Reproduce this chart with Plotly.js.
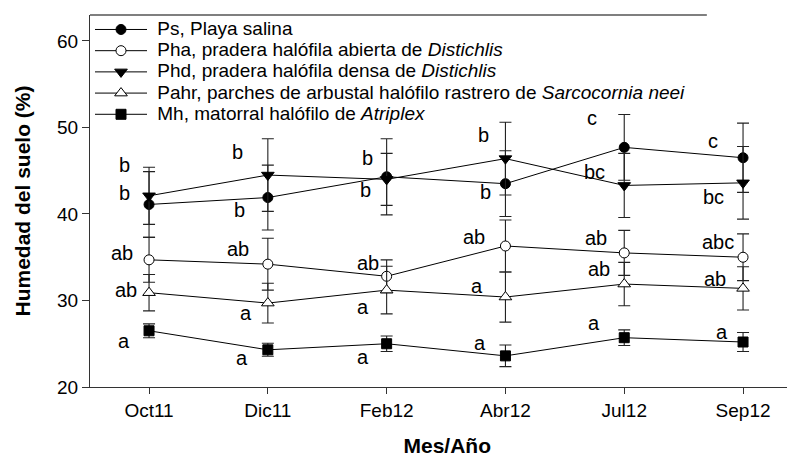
<!DOCTYPE html>
<html>
<head>
<meta charset="utf-8">
<script src="https://cdn.plot.ly/plotly-3.0.1.min.js"></script>
<style>html,body{margin:0;padding:0;background:#fff;}#chart{width:790px;height:457px;}</style>
</head>
<body>
<div id="chart"></div>
<script>
// ---- data ----
const months = ['Oct11', 'Dic11', 'Feb12', 'Abr12', 'Jul12', 'Sep12'];

const psMean   = [41.1, 41.9, 44.3, 43.5, 47.7, 46.5];
const psErr    = [3.8, 3.75, 4.4, 3.8, 3.8, 4.0];
const phaMean  = [34.7, 34.2, 32.8, 36.3, 35.5, 35.0];
const phaErr   = [2.6, 3.0, 1.9, 3.0, 2.6, 2.7];
const phdMean  = [42.1, 44.5, 44.0, 46.4, 43.3, 43.6];
const phdErr   = [3.3, 4.2, 3.0, 4.2, 3.7, 4.2];
const pahrMean = [30.9, 29.7, 31.2, 30.4, 31.9, 31.4];
const pahrErr  = [2.1, 2.3, 2.75, 2.9, 2.5, 2.5];
const mhMean   = [26.5, 24.3, 25.0, 23.6, 25.7, 25.2];
const mhErr    = [0.8, 0.75, 0.9, 1.25, 0.9, 1.1];

const psLetters   = ['b', 'b', 'b', 'b', 'c', 'c'];
const phaLetters  = ['ab', 'ab', 'ab', 'ab', 'ab', 'abc'];
const phdLetters  = ['b', 'b', 'b', 'b', 'bc', 'bc'];
const pahrLetters = ['ab', 'a', 'a', 'a', 'ab', 'ab'];
const mhLetters   = ['a', 'a', 'a', 'a', 'a', 'a'];

const names = [
  'Ps, Playa salina',
  'Pha, pradera halófila abierta de <i>Distichlis</i>',
  'Phd, pradera halófila densa de <i>Distichlis</i>',
  'Pahr, parches de arbustal halófilo rastrero de <i>Sarcocornia neei</i>',
  'Mh, matorral halófilo de <i>Atriplex</i>'
];

// ---- styling / positions (pixel offsets of the letters from their point) ----
const letterShift = {
  ps:   [[-25, 11.5], [-28, -12.4], [-19, 19], [-20, -8], [-32, 29], [-30, 17]],
  pha:  [[-27, 7], [-30, 15], [-19, 13], [-31, 9], [-28, 15], [-25, 15]],
  phd:  [[-25, 31], [-30, 23], [-21, -10.6], [-22, 24], [-30, 13.5], [-30, -14]],
  pahr: [[-23, 3], [-22, -10], [-24, -17], [-28, 11], [-25, 15], [-28, 9]],
  mh:   [[-25, -10], [-26, -8], [-24, -13], [-25, 13], [-30, 15], [-21, 10]]
};

const FONT = 'Liberation Sans, Arial, sans-serif';
const errStyle = (arr) => ({type: 'data', array: arr, visible: true, color: '#222', thickness: 1.1, width: 6});
const lineStyle = {color: '#000', width: 1};

const series = [
  {key: 'ps',   mean: psMean,   err: psErr,   letters: psLetters,   marker: {symbol: 'circle', size: 10, color: '#000', line: {color: '#000', width: 1}}},
  {key: 'pha',  mean: phaMean,  err: phaErr,  letters: phaLetters,  marker: {symbol: 'circle', size: 10, color: '#fff', line: {color: '#000', width: 1}}},
  {key: 'phd',  mean: phdMean,  err: phdErr,  letters: phdLetters,  marker: {symbol: 'triangle-down', size: 11, color: '#000', line: {color: '#000', width: 1}}},
  {key: 'pahr', mean: pahrMean, err: pahrErr, letters: pahrLetters, marker: {symbol: 'triangle-up', size: 11, color: '#fff', line: {color: '#000', width: 1}}},
  {key: 'mh',   mean: mhMean,   err: mhErr,   letters: mhLetters,   marker: {symbol: 'square', size: 10, color: '#000', line: {color: '#000', width: 1}}}
];

const traces = series.map((s, i) => ({
  type: 'scatter',
  mode: 'lines+markers',
  x: months,
  y: s.mean,
  name: '<span style="font-size:19px">&nbsp;' + names[i] + '</span>',
  line: lineStyle,
  marker: s.marker,
  error_y: errStyle(s.err),
  cliponaxis: false
}));

const annotations = [];
series.forEach(s => {
  s.letters.forEach((t, j) => {
    annotations.push({
      x: months[j], y: s.mean[j], xref: 'x', yref: 'y',
      text: t, showarrow: false,
      xshift: letterShift[s.key][j][0], yshift: letterShift[s.key][j][1],
      font: {family: FONT, size: 20, color: '#000'}
    });
  });
});

const layout = {
  width: 790, height: 457,
  margin: {l: 90, r: 3, t: 15, b: 70},
  paper_bgcolor: '#fff', plot_bgcolor: '#fff',
  font: {family: FONT, size: 19, color: '#000'},
  showlegend: true,
  legend: {
    x: 0, y: 1.003, xanchor: 'left', yanchor: 'top',
    bgcolor: 'rgba(0,0,0,0)', borderwidth: 0,
    font: {family: FONT, size: 14, color: '#000'},
    itemwidth: 52, tracegroupgap: 0
  },
  xaxis: {
    type: 'category',
    range: [-0.497, 5.37],
    showgrid: false, zeroline: false,
    showline: true, linecolor: '#333', linewidth: 1,
    ticks: 'outside', ticklen: 6, tickcolor: '#333',
    tickfont: {family: FONT, size: 19},
    title: {text: '&nbsp;&nbsp;&nbsp;<b>Mes/Año</b>', font: {family: FONT, size: 21}, standoff: 22}
  },
  yaxis: {
    range: [20, 63.0],
    tickvals: [20, 30, 40, 50, 60],
    showgrid: false, zeroline: false,
    showline: true, linecolor: '#333', linewidth: 1,
    ticks: 'outside', ticklen: 7, tickcolor: '#333',
    tickfont: {family: FONT, size: 19},
    title: {text: '<b>Humedad del suelo (%)</b>', font: {family: FONT, size: 21}, standoff: 20}
  },
  shapes: [
    {type: 'line', xref: 'paper', yref: 'paper', x0: 0, x1: 0.885, y0: 1, y1: 1, line: {color: '#555', width: 1.5}}
  ],
  annotations: annotations
};

Plotly.newPlot('chart', traces, layout, {displayModeBar: false, staticPlot: true});
</script>
</body>
</html>
